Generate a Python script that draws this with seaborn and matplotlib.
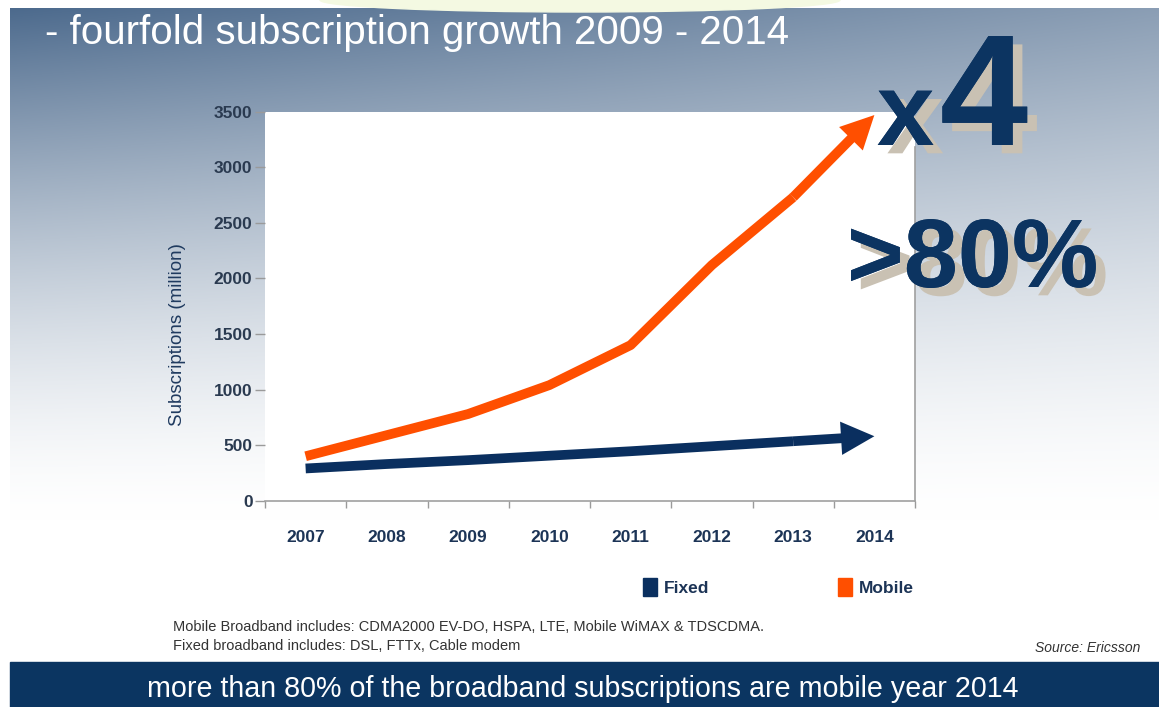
import numpy as np
import pandas as pd
import matplotlib
matplotlib.use('Agg')
import matplotlib.pyplot as plt
import matplotlib.patheffects as pe
from matplotlib.patches import Patch, Rectangle, Ellipse
import seaborn as sns

# data (million subscriptions)
years = [2007, 2008, 2009, 2010, 2011, 2012, 2013, 2014]
fixed = [290, 330, 365, 405, 445, 490, 535, 580]
mobile = [400, 590, 780, 1040, 1400, 2120, 2730, 3470]
yticks = [0, 500, 1000, 1500, 2000, 2500, 3000, 3500]
series = ['Fixed', 'Mobile']

navy = '#0a2f5f'
orange = '#ff4f00'
text_navy = '#1c3456'
big_navy = '#0c3461'

sns.set_theme(style='white')
plt.rcParams['font.family'] = ['Liberation Sans', 'DejaVu Sans']

W, H = 1159, 707
fig = plt.figure(figsize=(W / 100, H / 100), dpi=100)

# slide background: blue-grey gradient fading to white
bg = fig.add_axes([0, 0, 1, 1], zorder=-10)
yy, xx = np.mgrid[0:H, 0:W]
d = np.clip(1 - yy / 520, 0, 1) ** 1.5 * (1 - 0.35 * xx / W)
dark = np.array([0.28, 0.40, 0.54])
img = 1 - d[..., None] * (1 - dark)
img[:8, :] = 1
img[:, :10] = 1
bg.imshow(img, extent=[0, 1, 0, 1], aspect='auto', origin='upper')
bg.add_patch(Ellipse((580 / W, 1.0), 520 / W, 24 / H, color='#f4f9e2', zorder=2))
bg.add_patch(Rectangle((10 / W, 0), 1, 45 / H, color='#0b3561', zorder=2))
bg.set_xlim(0, 1)
bg.set_ylim(0, 1)
bg.set_axis_off()

# chart
ax = fig.add_axes([265 / W, 1 - 500.7 / H, 650 / W, 389 / H])
ax.set_facecolor('white')

df = pd.DataFrame({
    'year': years * 2,
    'value': fixed + mobile,
    'type': [series[0]] * len(years) + [series[1]] * len(years),
})
sns.lineplot(data=df[df['year'] < years[-1]], x='year', y='value', hue='type',
             palette=[navy, orange], linewidth=7, legend=False, ax=ax,
             solid_capstyle='butt', solid_joinstyle='round')

# arrow heads on the last segment
for vals, col in [(fixed, navy), (mobile, orange)]:
    ax.annotate('', xy=(years[-1], vals[-1]), xytext=(years[-2], vals[-2]),
                arrowprops=dict(arrowstyle='simple,head_length=2.4,head_width=2.4,tail_width=0.7',
                                mutation_scale=10, color=col, lw=0, shrinkA=0, shrinkB=0))

ax.set_xlim(years[0] - 0.5, years[-1] + 0.5)
ax.set_ylim(yticks[0], yticks[-1])
ax.set_xticks(years)
ax.set_xticks([y - 0.5 for y in years] + [years[-1] + 0.5], minor=True)
ax.set_yticks(yticks)
ax.tick_params(axis='x', which='major', length=0, pad=21, labelsize=12.5, labelcolor=text_navy)
ax.tick_params(axis='x', which='minor', bottom=True, length=5, color='#9a9a9a', width=1, direction='out')
ax.tick_params(axis='y', left=True, length=7, color='#9a9a9a', width=1, pad=2,
               labelsize=12.5, labelcolor='#2a3a50', direction='out')
for lbl in ax.get_xticklabels() + ax.get_yticklabels():
    lbl.set_fontweight('bold')
ax.set_xlabel('')
ax.set_ylabel('')
for s in ['left', 'top']:
    ax.spines[s].set_visible(False)
for s in ['bottom', 'right']:
    ax.spines[s].set_color('#a0a0a0')
    ax.spines[s].set_linewidth(1.2)
ax.spines['right'].set_bounds(0, 3180)

fig.text(178 / W, 1 - 335 / H, 'Subscriptions (million)', rotation=90, ha='center', va='center',
         fontsize=13.5, color='#1f3a5f')

handles = [Patch(color=navy), Patch(color=orange)]
leg = fig.legend(handles, series, loc='center left', bbox_to_anchor=(636 / W, 1 - 587 / H),
                 ncol=2, frameon=False, handlelength=0.8, handleheight=1.2, handletextpad=0.4,
                 columnspacing=7.4, prop=dict(weight='bold', size=12.5), borderaxespad=0)
for t in leg.get_texts():
    t.set_color(text_navy)

# slide texts
fig.text(45 / W, 1 - 33 / H, '- fourfold subscription growth 2009 - 2014', color='white',
         fontsize=29, va='center')

shadow = [pe.withSimplePatchShadow(offset=(7, -6), shadow_rgbFace='#c9c1b3', alpha=1), pe.Normal()]
fig.text(877 / W, 1 - 145 / H, 'x', fontsize=74, fontweight='bold', color=big_navy,
         va='baseline', path_effects=shadow)
fig.text(940 / W, 1 - 145 / H, '4', fontsize=114, fontweight='bold', color=big_navy,
         va='baseline', path_effects=shadow)
fig.text(847 / W, 1 - 287 / H, '>80%', fontsize=70, fontweight='bold', color=big_navy,
         va='baseline', path_effects=shadow)

fig.text(173 / W, 1 - 627 / H, 'Mobile Broadband includes: CDMA2000 EV-DO, HSPA, LTE, Mobile WiMAX & TDSCDMA.',
         fontsize=10.5, color='#333333', va='center')
fig.text(173 / W, 1 - 646 / H, 'Fixed broadband includes: DSL, FTTx, Cable modem',
         fontsize=10.5, color='#333333', va='center')
fig.text(1140 / W, 1 - 648 / H, 'Source: Ericsson', fontsize=10, color='#333333',
         va='center', ha='right', style='italic')

fig.text(583 / W, 1 - 689 / H, 'more than 80% of the broadband subscriptions are mobile year 2014',
         fontsize=20.6, color='white', ha='center', va='center')

fig.savefig('out.png', dpi=100)
